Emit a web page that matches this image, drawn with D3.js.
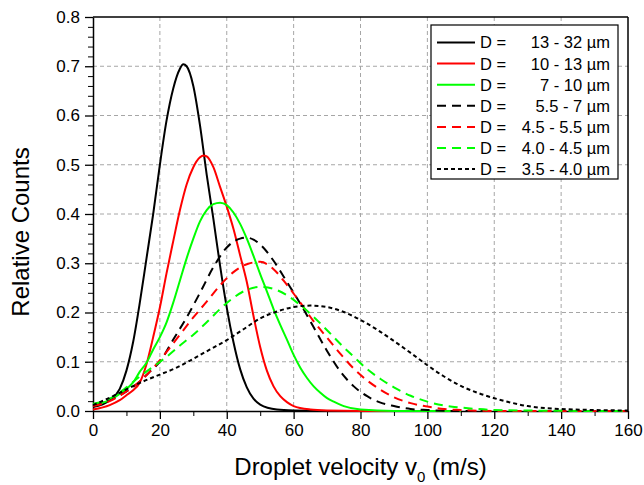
<!DOCTYPE html>
<html>
<head>
<meta charset="utf-8">
<script src="https://cdn.jsdelivr.net/npm/d3@7"></script>
<style>
  body { margin: 0; background: #fff; }
  text { font-family: "Liberation Sans", Arial, sans-serif; fill: #000; }
</style>
</head>
<body>
<svg id="plot"></svg>
<script>
// values, [velocity, relative count]
const d13_32 = [[0,0.008],[5,0.022],[8,0.045],[10,0.082],[12,0.14],[14,0.22],[16,0.31],[18,0.40],[20,0.50],[22,0.59],[24,0.655],[26,0.695],[27,0.704],[28,0.70],[30,0.66],[32,0.58],[34,0.48],[36,0.39],[38,0.295],[40,0.21],[42,0.14],[44,0.085],[46,0.048],[48,0.025],[50,0.013],[55,0.003],[60,0.001],[70,0],[100,0]];
const d10_13 = [[0,0.003],[5,0.012],[8,0.022],[10,0.032],[12,0.042],[14,0.058],[16,0.095],[18,0.15],[20,0.21],[22,0.28],[24,0.345],[26,0.408],[28,0.46],[30,0.495],[32,0.515],[33,0.519],[34,0.517],[36,0.495],[38,0.455],[40,0.415],[42,0.37],[44,0.316],[46,0.262],[48,0.193],[50,0.13],[52,0.082],[54,0.05],[56,0.03],[58,0.018],[60,0.01],[65,0.003],[70,0.001],[80,0],[110,0]];
const d7_10 = [[0,0.013],[5,0.022],[8,0.035],[10,0.045],[12,0.058],[14,0.08],[16,0.098],[18,0.125],[20,0.15],[22,0.18],[24,0.22],[26,0.265],[28,0.31],[30,0.35],[32,0.385],[34,0.408],[36,0.42],[38,0.423],[40,0.418],[42,0.403],[44,0.38],[46,0.35],[48,0.315],[50,0.278],[52,0.243],[54,0.207],[56,0.175],[58,0.145],[60,0.114],[62,0.088],[64,0.067],[66,0.05],[68,0.037],[70,0.026],[72,0.019],[75,0.01],[80,0.003],[90,0],[110,0]];
const d55_7 = [[0,0.01],[5,0.022],[10,0.04],[14,0.06],[17,0.08],[20,0.1],[24,0.145],[28,0.19],[32,0.24],[36,0.292],[40,0.332],[44,0.35],[46,0.352],[48,0.348],[50,0.338],[54,0.305],[58,0.262],[62,0.218],[66,0.17],[70,0.122],[74,0.08],[78,0.05],[82,0.03],[86,0.017],[90,0.01],[95,0.004],[100,0.002],[110,0],[160,0]];
const d45_55 = [[0,0.01],[5,0.02],[10,0.04],[14,0.06],[18,0.087],[22,0.12],[26,0.155],[30,0.19],[34,0.222],[38,0.255],[42,0.282],[46,0.298],[50,0.303],[54,0.288],[58,0.256],[62,0.22],[66,0.182],[70,0.149],[74,0.116],[78,0.086],[82,0.062],[86,0.043],[90,0.028],[95,0.016],[100,0.009],[105,0.004],[110,0.002],[120,0],[160,0]];
const d40_45 = [[0,0.015],[5,0.025],[10,0.048],[14,0.07],[18,0.09],[22,0.11],[26,0.133],[30,0.155],[34,0.18],[38,0.207],[42,0.23],[46,0.246],[50,0.252],[54,0.248],[58,0.235],[62,0.215],[66,0.191],[70,0.164],[74,0.136],[78,0.11],[82,0.085],[86,0.065],[90,0.048],[95,0.031],[100,0.019],[105,0.011],[110,0.007],[115,0.004],[120,0.002],[130,0.001],[155,0],[160,0]];
const d35_40 = [[0,0.012],[5,0.027],[10,0.044],[15,0.06],[20,0.074],[25,0.088],[30,0.106],[35,0.125],[40,0.144],[45,0.166],[50,0.188],[55,0.202],[60,0.211],[65,0.214],[70,0.211],[75,0.201],[80,0.185],[85,0.165],[90,0.142],[95,0.118],[100,0.093],[105,0.07],[110,0.051],[115,0.037],[120,0.026],[125,0.017],[130,0.01],[135,0.006],[140,0.004],[150,0.002],[160,0.001]];

const seriesLabels = ["13 - 32 µm", "10 - 13 µm", "7 - 10 µm", "5.5 - 7 µm", "4.5 - 5.5 µm", "4.0 - 4.5 µm", "3.5 - 4.0 µm"];
const seriesData = [d13_32, d10_13, d7_10, d55_7, d45_55, d40_45, d35_40];
const seriesColors = ["#000000", "#ff0000", "#00ff00", "#000000", "#ff0000", "#00ff00", "#000000"];
const seriesDash = [null, null, null, "9,6", "9,6", "9,6", "4,3"];

const xTicks = [0, 20, 40, 60, 80, 100, 120, 140, 160];
const yTicks = [0, 0.1, 0.2, 0.3, 0.4, 0.5, 0.6, 0.7, 0.8];

const W = 644, H = 485;
const margin = { top: 17, right: 16, bottom: 74, left: 93 };
const width = W - margin.left - margin.right,
  height = H - margin.top - margin.bottom;

const svg = d3.select("#plot").attr("width", W).attr("height", H)
  .append("g")
    .attr("transform", "translate(" + margin.left + "," + margin.top + ")");

const x = d3.scaleLinear().domain([0, 160]).range([0, width]);
const y = d3.scaleLinear().domain([0, 0.8]).range([height, 0]);

// grid
svg.append("g").selectAll("line")
  .data(xTicks.filter(d => d > 0 && d < 160))
  .join("line")
    .attr("x1", d => x(d)).attr("x2", d => x(d))
    .attr("y1", 0).attr("y2", height)
    .attr("stroke", "#a6a6a6").attr("stroke-dasharray", "4,3");
svg.append("g").selectAll("line")
  .data(yTicks.filter(d => d > 0 && d < 0.8))
  .join("line")
    .attr("x1", 0).attr("x2", width)
    .attr("y1", d => y(d)).attr("y2", d => y(d))
    .attr("stroke", "#a6a6a6").attr("stroke-dasharray", "4,3");

// minor ticks
svg.append("g")
  .attr("transform", "translate(0," + height + ")")
  .call(d3.axisBottom(x).tickValues(d3.range(10, 160, 20)).tickSize(5).tickFormat(""))
  .call(g => g.select(".domain").remove());
svg.append("g")
  .call(d3.axisLeft(y).tickValues(d3.range(1, 40).filter(i => i % 5 != 0).map(i => i * 0.02)).tickSize(5).tickFormat(""))
  .call(g => g.select(".domain").remove());

// major axes
const xAxis = svg.append("g")
  .attr("transform", "translate(0," + height + ")")
  .call(d3.axisBottom(x).tickValues(xTicks).tickSize(8).tickSizeOuter(0).tickPadding(5));
const yAxis = svg.append("g")
  .call(d3.axisLeft(y).tickValues(yTicks).tickFormat(d3.format(".1f")).tickSize(8).tickSizeOuter(0).tickPadding(5));
[xAxis, yAxis].forEach(a => {
  a.selectAll("text").style("font-size", "17px");
  a.selectAll("line").attr("stroke-width", 1.3);
  a.select(".domain").attr("stroke-width", 1.5);
});

// frame top and right
svg.append("line").attr("x1", 0).attr("x2", width).attr("y1", 0).attr("y2", 0)
  .attr("stroke", "#000").attr("stroke-width", 1.5);
svg.append("line").attr("x1", width).attr("x2", width).attr("y1", 0).attr("y2", height)
  .attr("stroke", "#000").attr("stroke-width", 1.5);

// curves
const line = d3.line()
  .x(d => x(d[0]))
  .y(d => y(d[1]))
  .curve(d3.curveMonotoneX);

svg.append("g").selectAll("path")
  .data(seriesData)
  .join("path")
    .attr("d", line)
    .attr("fill", "none")
    .attr("stroke", (d, i) => seriesColors[i])
    .attr("stroke-width", 2)
    .attr("stroke-dasharray", (d, i) => seriesDash[i]);

// legend
const legend = svg.append("g").attr("transform", "translate(" + (431 - margin.left) + "," + (25 - margin.top) + ")");
legend.append("rect")
  .attr("width", 187).attr("height", 154)
  .attr("fill", "#fff").attr("stroke", "#000").attr("stroke-width", 1.2);
const rows = legend.selectAll("g.row")
  .data(seriesLabels)
  .join("g")
    .attr("class", "row")
    .attr("transform", (d, i) => "translate(0," + (17.5 + i * 21.1) + ")");
rows.append("line")
  .attr("x1", 6).attr("x2", 44)
  .attr("stroke", (d, i) => seriesColors[i])
  .attr("stroke-width", 2)
  .attr("stroke-dasharray", (d, i) => seriesDash[i]);
rows.append("text")
  .attr("x", 49).attr("dy", "0.36em")
  .style("font-size", "16.5px")
  .text("D =");
rows.append("text")
  .attr("x", 179).attr("dy", "0.36em")
  .attr("text-anchor", "end")
  .style("font-size", "16.5px")
  .text(d => d);

// axis titles
const xTitle = svg.append("text")
  .attr("x", width / 2).attr("y", height + 64)
  .attr("text-anchor", "middle")
  .style("font-size", "24px");
xTitle.append("tspan").text("Droplet velocity v");
xTitle.append("tspan").attr("dy", 7).style("font-size", "15px").text("0");
xTitle.append("tspan").attr("dy", -7).text(" (m/s)");

svg.append("text")
  .attr("transform", "translate(" + (29 - margin.left) + "," + (232 - margin.top) + ") rotate(-90)")
  .attr("text-anchor", "middle")
  .style("font-size", "24px")
  .text("Relative Counts");
</script>
</body>
</html>
